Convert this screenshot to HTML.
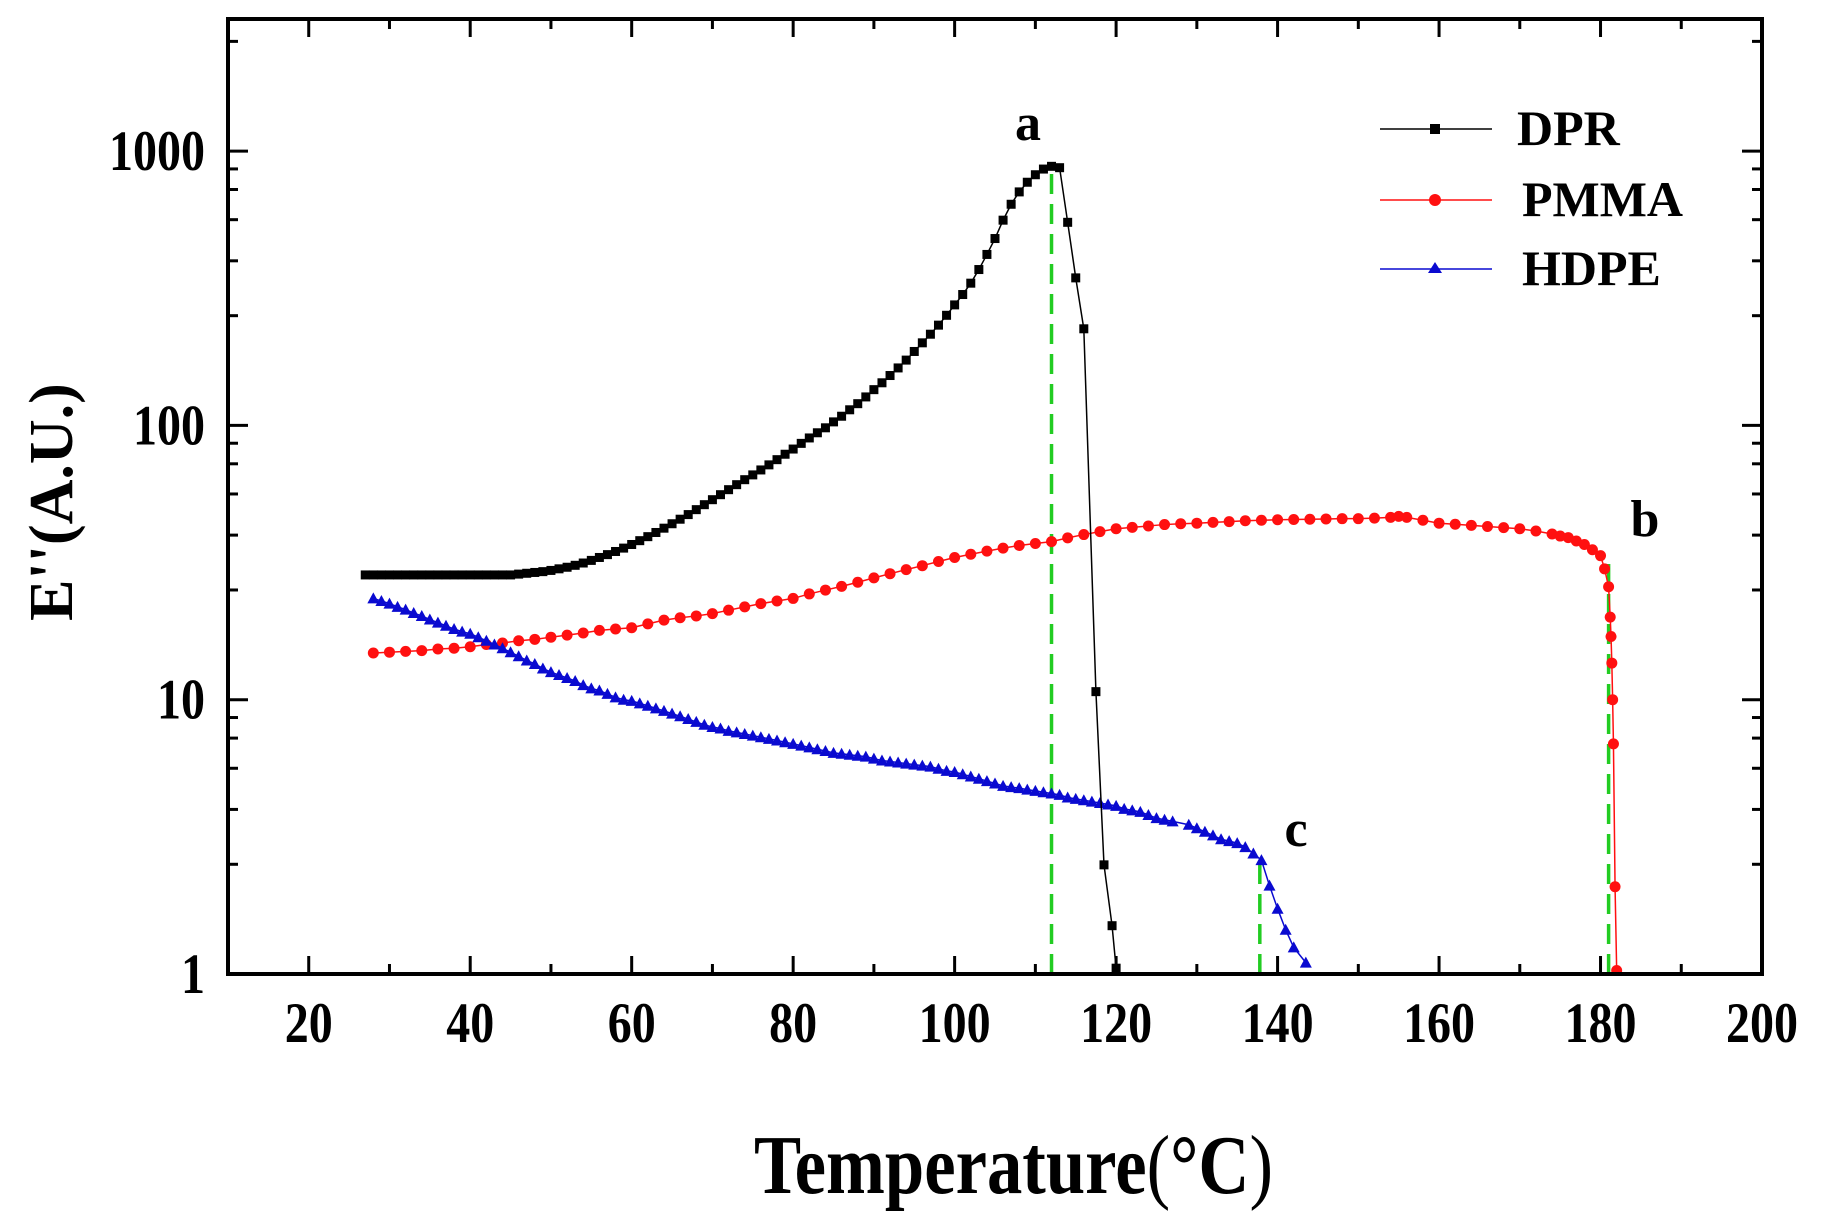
<!DOCTYPE html>
<html><head><meta charset="utf-8">
<style>
html,body{margin:0;padding:0;background:#fff;}
svg{display:block;}
text{font-family:"Liberation Serif","DejaVu Serif",serif;font-weight:bold;fill:#000;}
</style></head>
<body>
<svg id="chart" width="1822" height="1212" viewBox="0 0 1822 1212" xmlns="http://www.w3.org/2000/svg">
<g id="marks"></g>
<g id="axes"></g>
</svg>
<script>
const dprT = [27,28,29,30,31,32,33,34,35,36,37,38,39,40,41,42,43,44,45,46,47,48,49,50,51,52,53,54,55,56,57,58,59,60,61,62,63,64,65,66,67,68,69,70,71,72,73,74,75,76,77,78,79,80,81,82,83,84,85,86,87,88,89,90,91,92,93,94,95,96,97,98,99,100,101,102,103,104,105,106,107,108,109,110,111,112,113,114,115,116,117.5,118.5,119.5,120];
const dprV = [28.5,28.5,28.5,28.5,28.5,28.5,28.5,28.5,28.5,28.5,28.5,28.5,28.5,28.5,28.5,28.5,28.5,28.5,28.5,28.7,28.9,29.1,29.3,29.6,30,30.4,30.9,31.5,32.2,33,33.8,34.7,35.7,36.8,38,39.3,40.7,42.2,43.8,45.5,47.3,49.3,51.4,53.6,55.9,58.3,60.8,63.4,66,68.8,71.8,75,78.5,82,86,90,94,98,103,108,114,120,127,135,143,152,162,173,186,200,215,232,252,275,300,330,370,420,480,560,640,710,770,820,860,880,870,550,345,225,10.7,2.5,1.5,1.05];
const pmmaT = [28,30,32,34,36,38,40,42,44,46,48,50,52,54,56,58,60,62,64,66,68,70,72,74,76,78,80,82,84,86,88,90,92,94,96,98,100,102,104,106,108,110,112,114,116,118,120,122,124,126,128,130,132,134,136,138,140,142,144,146,148,150,152,154,155,156,158,160,162,164,166,168,170,172,174,175,176,177,178,179,180,180.5,181,181.2,181.3,181.4,181.5,181.6,181.8,182];
const pmmaV = [14.8,14.9,15.0,15.1,15.3,15.4,15.6,15.9,16.1,16.4,16.6,16.9,17.2,17.5,17.9,18.1,18.3,18.9,19.5,19.9,20.2,20.6,21.2,21.8,22.4,22.9,23.4,24.3,25.1,25.9,26.8,27.8,28.8,29.8,30.8,31.9,33.0,33.9,34.8,35.7,36.5,37.1,37.7,38.9,40.0,41.0,42.0,42.5,43.0,43.5,43.8,44.0,44.3,44.6,44.9,45.1,45.3,45.4,45.5,45.6,45.7,45.7,45.9,46.2,46.6,46.2,45.1,44.0,43.6,43.2,42.8,42.4,42.0,41.2,40.2,39.5,39.0,37.9,36.8,35.2,33.5,30,25.8,20,17,13.6,10,6.9,2.08,1.03];
const hdpeT = [28,29,30,31,32,33,34,35,36,37,38,39,40,41,42,43,44,45,46,47,48,49,50,51,52,53,54,55,56,57,58,59,60,61,62,63,64,65,66,67,68,69,70,71,72,73,74,75,76,77,78,79,80,81,82,83,84,85,86,87,88,89,90,91,92,93,94,95,96,97,98,99,100,101,102,103,104,105,106,107,108,109,110,111,112,113,114,115,116,117,118,119,120,121,122,123,124,125,126,127,129,130,131,132,133,134,135,136,137,138,139,140,141,142,143.5];
const hdpeV = [23.4,22.9,22.4,21.8,21.3,20.7,20.2,19.6,19.1,18.6,18.1,17.7,17.4,16.9,16.4,15.9,15.4,14.9,14.4,13.9,13.5,13.0,12.6,12.3,12.0,11.7,11.3,11.0,10.8,10.5,10.2,10.0,9.9,9.7,9.5,9.3,9.1,8.9,8.7,8.5,8.3,8.1,7.95,7.85,7.7,7.6,7.5,7.4,7.3,7.2,7.1,7.0,6.9,6.8,6.7,6.6,6.5,6.4,6.35,6.3,6.25,6.2,6.1,6.0,5.95,5.9,5.85,5.8,5.75,5.7,5.6,5.5,5.45,5.35,5.25,5.15,5.05,4.95,4.85,4.8,4.76,4.7,4.65,4.6,4.55,4.5,4.4,4.35,4.3,4.25,4.2,4.15,4.1,4.0,3.95,3.9,3.8,3.7,3.65,3.6,3.5,3.4,3.3,3.2,3.1,3.05,3.0,2.9,2.75,2.6,2.1,1.73,1.45,1.25,1.1];
const xTicks = [20,40,60,80,100,120,140,160,180,200];
const yTicks = [1,10,100,1000];
const yTickLabels = ["1","10","100","1000"];
const guideT = [112,137.8,181];
const guideV = [880,2.6,33];

const X0=228,X1=1762,Y0=974,Y1=19;
const xMin=10,xMax=200;
const dec=274.3;
function sx(t){return X0+(t-xMin)*(X1-X0)/(xMax-xMin);}
function sy(v){return Y0-Math.log10(v)*dec;}
const NS="http://www.w3.org/2000/svg";
const marks=document.getElementById('marks');
const axes=document.getElementById('axes');
function mk(tag,attrs,parent){const e=document.createElementNS(NS,tag);for(const k in attrs)e.setAttribute(k,attrs[k]);parent.appendChild(e);return e;}

for(let i=0;i<guideT.length;i++){
  const g=mk('line',{x1:sx(guideT[i]),x2:sx(guideT[i]),y1:Y0,y2:sy(guideV[i]),stroke:'#22cc22','stroke-width':3.5,'stroke-dasharray':'20,10'},marks);
  
  
}
function series(T,V,color,shape,name){
  const g=mk('g',{},marks);
  
  
  const pts=T.map((t,i)=>sx(t)+','+sy(V[i])).join(' ');
  mk('polyline',{points:pts,fill:'none',stroke:color,'stroke-width':1.5},g);
  for(let i=0;i<T.length;i++){
    const x=sx(T[i]),y=sy(V[i]);
    let m;
    if(shape==='sq') m=mk('rect',{x:x-4.5,y:y-4.5,width:9,height:9,fill:color},g);
    else if(shape==='c') m=mk('circle',{cx:x,cy:y,r:5.5,fill:color},g);
    else m=mk('polygon',{points:`${x},${y-6} ${x-6},${y+5} ${x+6},${y+5}`,fill:color},g);
    
    
  }
}
series(pmmaT,pmmaV,'#ff1010','c','pmma');
series(hdpeT,hdpeV,'#0a0ad0','tri','hdpe');
series(dprT,dprV,'#000','sq','dpr');

const fr=mk('rect',{x:X0,y:Y1,width:X1-X0,height:Y0-Y1,fill:'none',stroke:'#000','stroke-width':4},axes);


for(let t=10;t<=200;t+=10){
  const major=(t%20===0);const L=major?18:10;
  mk('line',{x1:sx(t),x2:sx(t),y1:Y0,y2:Y0-L,stroke:'#000','stroke-width':3},axes);
  mk('line',{x1:sx(t),x2:sx(t),y1:Y1,y2:Y1+L,stroke:'#000','stroke-width':3},axes);
}
xTicks.forEach(t=>{
  const e=mk('text',{transform:`translate(${sx(t)},1042) scale(1,1.18)`,'text-anchor':'middle','font-size':48},axes);
  e.textContent=String(t);
  
  
});
const minorFr=[0.065,0.14,0.25,0.40,0.60];
for(let d=0;d<=3;d++){
  const yy=sy(Math.pow(10,d));
  mk('line',{x1:X0,x2:X0+20,y1:yy,y2:yy,stroke:'#000','stroke-width':3},axes);
  mk('line',{x1:X1,x2:X1-20,y1:yy,y2:yy,stroke:'#000','stroke-width':3},axes);
  minorFr.forEach(f=>{
    const ym=yy-(1-f)*dec;
    if(ym<Y1+2)return;
    mk('line',{x1:X0,x2:X0+10,y1:ym,y2:ym,stroke:'#000','stroke-width':3},axes);
    mk('line',{x1:X1,x2:X1-10,y1:ym,y2:ym,stroke:'#000','stroke-width':3},axes);
  });
}
yTicks.forEach((v,i)=>{
  const e=mk('text',{transform:`translate(205,${sy(v)+19}) scale(1,1.18)`,'text-anchor':'end','font-size':48},axes);
  e.textContent=yTickLabels[i];
  
  
});
</script>
<svg width="1822" height="1212" style="position:absolute;left:0;top:0" xmlns="http://www.w3.org/2000/svg">
<text x="1028" y="140" text-anchor="middle" font-size="52">a</text>
<text x="1645" y="536" text-anchor="middle" font-size="52">b</text>
<text x="1296" y="846" text-anchor="middle" font-size="52">c</text>
<text x="754" y="1193" font-size="84" textLength="519" lengthAdjust="spacingAndGlyphs">Temperature<tspan font-weight="normal">(</tspan>°C<tspan font-weight="normal">)</tspan></text>
<text transform="translate(72,502) rotate(-90)" text-anchor="middle" font-size="62">E''(A.U.)</text>
<g>
<g>
<line x1="1380" x2="1492" y1="129" y2="129" stroke="#000" stroke-width="1.5"/><rect x="1430" y="124" width="10" height="10" fill="#000"/>
<text x="1517" y="145" font-size="50">DPR</text></g>
<g>
<line x1="1380" x2="1492" y1="200" y2="200" stroke="#ff1010" stroke-width="1.5"/><circle cx="1435" cy="200" r="6" fill="#ff1010"/>
<text x="1522" y="216" font-size="50">PMMA</text></g>
<g>
<line x1="1380" x2="1492" y1="269" y2="269" stroke="#0a0ad0" stroke-width="1.5"/><polygon points="1435,262 1428,273 1442,273" fill="#0a0ad0"/>
<text x="1522" y="285" font-size="50">HDPE</text></g>
</g>
</svg>
</body></html>
